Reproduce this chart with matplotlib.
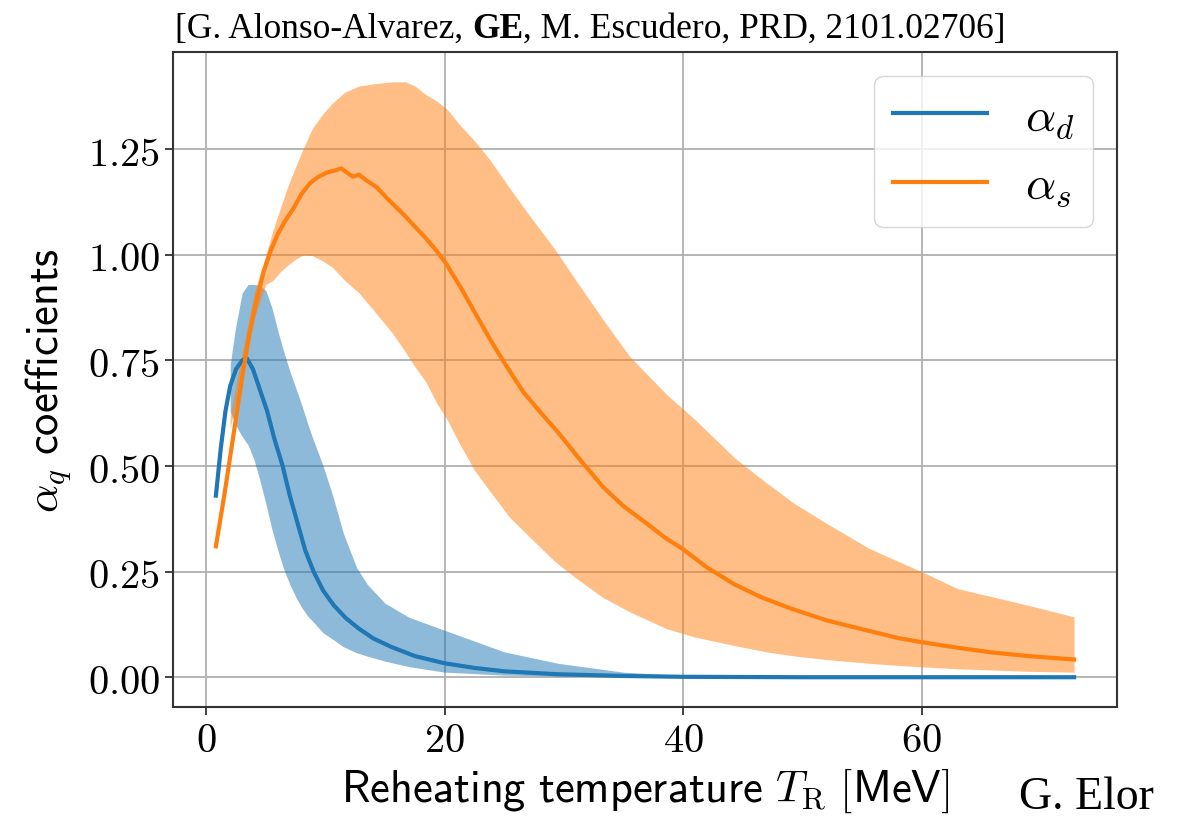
import numpy as np
import matplotlib
matplotlib.use("Agg")
import matplotlib.pyplot as plt
from matplotlib.ticker import FuncFormatter

plt.rcParams['mathtext.fontset'] = 'cm'

# --- alpha_d (blue) central curve ---
x_d = [0.8, 1.2, 1.6, 2.0, 2.5, 3.0, 3.4, 3.9, 4.5, 5.1, 5.7, 6.4, 7.0, 7.6, 8.3, 9.0,
       9.8, 10.7, 11.7, 12.8, 14.0, 15.5, 17.5, 20.0, 22.5, 25.0, 29.5, 35.0, 40.0, 50.0, 72.8]
y_d = [0.43, 0.54, 0.63, 0.69, 0.73, 0.75, 0.755, 0.73, 0.68, 0.63, 0.565, 0.50, 0.43, 0.37, 0.30, 0.25,
       0.205, 0.17, 0.14, 0.115, 0.092, 0.072, 0.05, 0.033, 0.022, 0.014, 0.007, 0.003, 0.001, 0.0, 0.0]

# --- alpha_d band ---
x_db = [2.0, 2.4, 3.0, 3.5, 4.0, 4.5, 5.0, 5.5, 6.0, 6.5, 7.0, 7.5, 8.0, 8.5, 9.0, 9.8, 10.6, 11.5,
        12.6, 13.5, 15.0, 17.0, 20.0, 25.0, 29.5, 35.0, 40.0, 50.0, 60.0, 72.8]
hi_d = [0.74, 0.82, 0.91, 0.93, 0.93, 0.928, 0.915, 0.875, 0.82, 0.77, 0.725, 0.685, 0.645, 0.60, 0.56,
        0.50, 0.43, 0.34, 0.26, 0.22, 0.175, 0.142, 0.111, 0.06, 0.033, 0.012, 0.004, 0.001, 0.0, 0.0]
lo_d = [0.63, 0.60, 0.57, 0.55, 0.515, 0.465, 0.41, 0.35, 0.30, 0.255, 0.22, 0.19, 0.165, 0.145, 0.13,
        0.105, 0.09, 0.072, 0.058, 0.05, 0.038, 0.025, 0.012, 0.005, 0.003, 0.001, 0.0, 0.0, 0.0, 0.0]

# --- alpha_s (orange) central curve ---
x_s = [0.8, 1.5, 2.2, 3.0, 3.6, 4.2, 4.8, 5.4, 6.0, 6.6, 7.3, 8.0, 8.7, 9.4, 10.1, 10.8, 11.3, 11.8,
       12.3, 12.8, 13.5, 14.3, 15.3, 16.4, 17.4, 18.4, 19.3, 20.1, 21.4, 22.6, 23.8, 25.1, 26.6, 28.1,
       29.5, 31.5, 33.3, 35.0, 36.9, 38.5, 39.9, 42.0, 44.3, 46.5, 49.0, 52.0, 55.4, 58.0, 60.0, 63.0,
       65.8, 69.0, 72.8]
y_s = [0.31, 0.43, 0.56, 0.71, 0.81, 0.89, 0.96, 1.01, 1.05, 1.08, 1.11, 1.145, 1.17, 1.185, 1.195, 1.20,
       1.205, 1.195, 1.185, 1.19, 1.175, 1.16, 1.13, 1.10, 1.07, 1.04, 1.01, 0.98, 0.92, 0.86, 0.80, 0.74,
       0.675, 0.625, 0.58, 0.51, 0.45, 0.405, 0.365, 0.33, 0.305, 0.26, 0.22, 0.19, 0.163, 0.135, 0.111,
       0.093, 0.083, 0.07, 0.059, 0.05, 0.042]

# --- alpha_s band ---
x_sb = [2.0, 3.0, 4.0, 5.0, 5.6, 6.2, 6.8, 7.5, 8.1, 8.9, 9.8, 10.6, 11.6, 12.8, 14.0, 15.6, 16.7, 17.5,
        18.4, 19.3, 20.2, 21.2, 22.5, 23.8, 25.4, 27.2, 29.2, 31.0, 33.2, 35.5, 38.6, 41.0, 44.3, 47.0,
        49.4, 52.0, 55.6, 58.0, 60.4, 63.0, 66.0, 69.0, 72.8]
hi_s = [0.62, 0.77, 0.91, 1.0, 1.06, 1.11, 1.16, 1.21, 1.25, 1.30, 1.335, 1.36, 1.385, 1.40, 1.405, 1.41,
        1.41, 1.40, 1.38, 1.365, 1.345, 1.31, 1.27, 1.225, 1.16, 1.09, 1.015, 0.94, 0.85, 0.76, 0.67, 0.61,
        0.52, 0.46, 0.41, 0.365, 0.305, 0.275, 0.245, 0.21, 0.19, 0.17, 0.143]
lo_s = [0.59, 0.72, 0.85, 0.93, 0.94, 0.96, 0.975, 0.99, 1.0, 0.998, 0.985, 0.97, 0.94, 0.91, 0.87, 0.815,
        0.77, 0.735, 0.70, 0.65, 0.61, 0.555, 0.49, 0.44, 0.38, 0.33, 0.275, 0.235, 0.19, 0.155, 0.115,
        0.095, 0.075, 0.06, 0.05, 0.042, 0.033, 0.028, 0.024, 0.02, 0.017, 0.014, 0.012]

BLUE, ORANGE = '#1f77b4', '#ff7f0e'

fig = plt.figure(figsize=(11.81, 8.2), dpi=100)
ax = fig.add_axes([173 / 1181, 112 / 820, (1117 - 173) / 1181, (708 - 53) / 820])

ax.fill_between(x_db, lo_d, hi_d, color=BLUE, alpha=0.5, lw=0, zorder=2)
ax.fill_between(x_sb, lo_s, hi_s, color=ORANGE, alpha=0.5, lw=0, zorder=2)
ax.plot(x_d, y_d, color=BLUE, lw=3, label=r'$\alpha_d$', zorder=3)
ax.plot(x_s, y_s, color=ORANGE, lw=3, label=r'$\alpha_s$', zorder=3)

ax.set_xticks([0, 20, 40, 60])
ax.set_yticks([0.0, 0.25, 0.5, 0.75, 1.0, 1.25])
ax.xaxis.set_major_formatter(FuncFormatter(lambda v, p: r'$%d$' % v))
ax.yaxis.set_major_formatter(FuncFormatter(lambda v, p: r'$%.2f$' % v))
ax.tick_params(labelsize=29, length=6, width=1.3, color='#333333')
ax.grid(True, color='#b0b0b0', lw=1.3)
ax.set_axisbelow(True)
for sp in ax.spines.values():
    sp.set_color('#333333')
    sp.set_linewidth(1.5)

ax.set_xlabel(r'$\mathsf{Reheating\ temperature}\ T_\mathrm{R}\ \mathsf{[MeV]}$', fontsize=32, labelpad=4)
ax.set_ylabel(r'$\alpha_q\ \mathsf{coefficients}$', fontsize=32, labelpad=10)

leg = ax.legend(loc='upper right', fontsize=34, handlelength=2.0, framealpha=0.8)
for ln in leg.get_lines():
    ln.set_linewidth(3)

# citation line with bold initials
t1 = fig.text(175 / 1181, 1 - 38 / 820, '[G. Alonso-Alvarez, ', fontsize=25.5,
              family='Liberation Serif', va='baseline')
t2 = fig.text(0, 0, 'GE', fontsize=25.5, family='Liberation Serif', weight='bold', va='baseline')
t3 = fig.text(0, 0, ', M. Escudero, PRD, 2101.02706]', fontsize=25.5, family='Liberation Serif', va='baseline')
fig.canvas.draw()
r = fig.canvas.get_renderer()
bb1 = t1.get_window_extent(r)
t2.set_x(bb1.x1 / fig.bbox.width)
t2.set_y(t1.get_position()[1])
bb2 = t2.get_window_extent(r)
t3.set_x(bb2.x1 / fig.bbox.width)
t3.set_y(t1.get_position()[1])

fig.text(1019 / 1181, 1 / 820, 'G. Elor', fontsize=33, family='Liberation Serif', va='bottom')

fig.savefig('out.png', dpi=100)
